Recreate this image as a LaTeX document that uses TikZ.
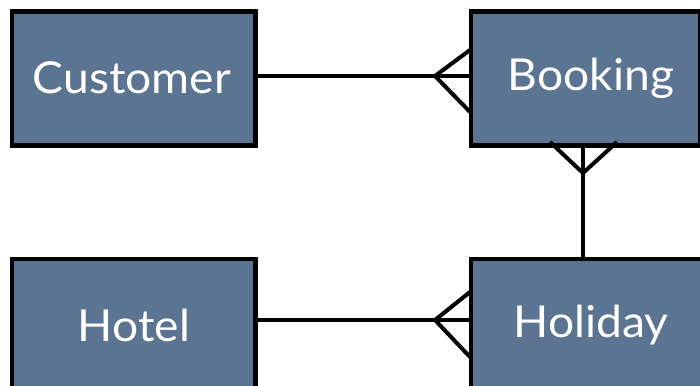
\documentclass[tikz,border=0pt]{standalone}
\usepackage{fontspec}
\setmainfont{Lato}
\definecolor{boxfill}{HTML}{5A7492}
\begin{document}
\begin{tikzpicture}[x=1pt,y=-1pt,
  box/.style={draw=black,line width=3pt,fill=boxfill,inner sep=0pt,anchor=north west},
  lbl/.style={text=white,font=\fontsize{44}{44}\selectfont,inner sep=0pt,xscale=1.05},
  conn/.style={draw=black,line width=4pt}]
\useasboundingbox (0,0) rectangle (700,385);
\clip (0,0) rectangle (700,385);
\fill[white] (0,0) rectangle (700,385);
% boxes
\node[box,minimum width=242pt,minimum height=132pt] (customer) at (11,11) {};
\node[box,minimum width=228pt,minimum height=132pt] (booking) at (470,11) {};
\node[box,minimum width=242pt,minimum height=140pt] (hotel) at (11,258) {};
\node[box,minimum width=242pt,minimum height=140pt] (holiday) at (470,258) {};
% labels
\node[lbl] (cs) at (132,78) {Customer};
\node[lbl] (bk) at (591,78) {Booking};
\node[lbl] (ht) at (134,325) {Hotel};
\node[lbl] (hd) at (591,325) {Holiday};
% connectors
\coordinate (cbA) at (435,76);
\coordinate (hhA) at (435,320);
\coordinate (bhA) at (583,173);
\draw[conn] (customer.east |- cbA) -- (booking.west |- cbA);
\draw[conn] (470,50) -- (cbA) -- (470,112);
\draw[conn] (hotel.east |- hhA) -- (holiday.west |- hhA);
\draw[conn] (470,292) -- (hhA) -- (470,357);
\draw[conn] (booking.south -| bhA) -- (holiday.north -| bhA);
\draw[conn] (550,142) -- (bhA) -- (617,142);
% redraw box borders over connector ends
\draw[line width=3pt] (customer.north west) rectangle (customer.south east);
\draw[line width=3pt] (booking.north west) rectangle (booking.south east);
\draw[line width=3pt] (hotel.north west) rectangle (hotel.south east);
\draw[line width=3pt] (holiday.north west) rectangle (holiday.south east);
\end{tikzpicture}
\end{document}
